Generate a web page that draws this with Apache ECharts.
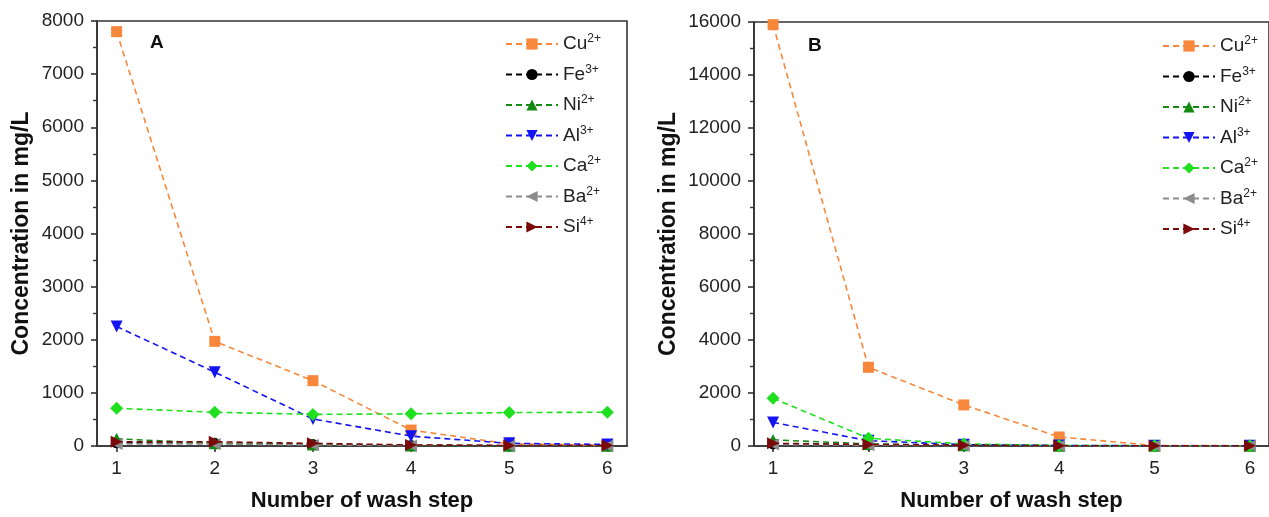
<!DOCTYPE html>
<html><head><meta charset="utf-8">
<script src="https://cdn.jsdelivr.net/npm/echarts@6/dist/echarts.min.js"></script>
<style>html,body{margin:0;padding:0;background:#fff}#c{width:1269px;height:517px}</style>
</head><body><div id="c"></div>
<script>
const steps = [1, 2, 3, 4, 5, 6];
const xTickLabels = ['1', '2', '3', '4', '5', '6'];
const ions = ['Cu', 'Fe', 'Ni', 'Al', 'Ca', 'Ba', 'Si'];
const charges = ['2+', '3+', '2+', '3+', '2+', '2+', '4+'];
// Panel A (mg/L)
const cuA = [7800, 1970, 1230, 300, 40, 15];
const feA = [60, 50, 30, 10, 5, 5];
const niA = [135, 50, 30, 10, 5, 5];
const alA = [2250, 1390, 510, 185, 50, 30];
const caA = [710, 635, 595, 605, 630, 635];
const baA = [40, 40, 20, 10, 5, 5];
const siA = [80, 80, 50, 20, 10, 10];
// Panel B (mg/L)
const cuB = [15900, 2970, 1550, 340, 20, 10];
const feB = [80, 40, 20, 10, 5, 5];
const niB = [230, 80, 30, 10, 5, 5];
const alB = [890, 200, 50, 20, 10, 10];
const caB = [1800, 290, 80, 20, 10, 10];
const baB = [60, 30, 10, 5, 5, 5];
const siB = [100, 60, 30, 10, 5, 5];
const yTicksA = [0, 1000, 2000, 3000, 4000, 5000, 6000, 7000, 8000];
const yTicksB = [0, 2000, 4000, 6000, 8000, 10000, 12000, 14000, 16000];

const colors = ['#F7883B', '#000000', '#138A13', '#1414F0', '#1EE01E', '#8C8C8C', '#7A0A0A'];
const symbols = ['rect', 'circle', 'path://M5,0L10,10L0,10Z', 'path://M0,0L10,0L5,10Z', 'diamond', 'path://M10,0L10,10L0,5Z', 'path://M0,0L10,5L0,10Z'];
const symSizes = [11, 11, 12, 12, 13, 12, 12];
const FONT = 'Arial, "Liberation Sans", sans-serif';

function mkSeries(dataArrs, gi) {
  return dataArrs.map((arr, i) => ({
    name: ions[i] + (gi ? ' ' : ''),
    type: 'line', xAxisIndex: gi, yAxisIndex: gi,
    data: steps.map((s, k) => [s, arr[k]]),
    symbol: symbols[i], symbolSize: symSizes[i],
    itemStyle: {color: colors[i]},
    lineStyle: {color: colors[i], type: [6, 4], width: 1.6},
    z: 2 + i, animation: false
  }));
}
const seriesA = mkSeries([cuA, feA, niA, alA, caA, baA, siA], 0);
const seriesB = mkSeries([cuB, feB, niB, alB, caB, baB, siB], 1);

const axisLine = {lineStyle: {color: '#333', width: 1.6}};
function xAxis(gi) {
  return {
    type: 'value', gridIndex: gi, min: 0.8, max: 6.2,
    axisLine: axisLine,
    axisTick: {show: true, length: 6, lineStyle: {color: '#333', width: 1.6}, customValues: steps},
    axisLabel: {customValues: steps, formatter: v => xTickLabels[steps.indexOf(v)], fontSize: 19, color: '#222', fontFamily: FONT, margin: 13},
    splitLine: {show: false},
    name: 'Number of wash step', nameLocation: 'middle', nameGap: 44,
    nameTextStyle: {fontSize: 22, fontWeight: 'bold', color: '#111', fontFamily: FONT}
  };
}
function yAxis(gi, ticks) {
  return {
    type: 'value', gridIndex: gi, min: ticks[0], max: ticks[ticks.length - 1], interval: ticks[1] - ticks[0],
    axisLine: {show: true, lineStyle: {color: '#333', width: 1.6}},
    axisTick: {show: true, length: 6, lineStyle: {color: '#333', width: 1.6}},
    minorTick: {show: true, splitNumber: 2, length: 4, lineStyle: {color: '#333', width: 1.4}},
    axisLabel: {fontSize: 19, color: '#222', fontFamily: FONT, margin: 13, formatter: v => String(v)},
    splitLine: {show: false},
    name: 'Concentration in mg/L', nameLocation: 'middle', nameGap: gi ? 74 : 64,
    nameTextStyle: {fontSize: 23, fontWeight: 'bold', color: '#111', fontFamily: FONT}
  };
}
const rich = {
  b: {fontSize: 19, color: '#222', fontFamily: FONT},
  s: {fontSize: 12, color: '#222', fontFamily: FONT, padding: [0, 0, 10, 0]}
};
function legend(gi, left, top) {
  return {
    orient: 'vertical', left: left, top: top, itemWidth: 52, itemHeight: 14, itemGap: 10,
    data: ions.map(n => n + (gi ? ' ' : '')),
    formatter: n => { const i = ions.indexOf(n.trim()); return '{b|' + ions[i] + '}{s|' + charges[i] + '}'; },
    textStyle: {rich: rich, padding: [0, 0, 0, 0]},
    itemStyle: {borderWidth: 0}
  };
}
const chart = echarts.init(document.getElementById('c'), null, {renderer: 'canvas'});
chart.setOption({
  animation: false,
  backgroundColor: '#fff',
  grid: [
    {left: 97, top: 21, width: 530, height: 426, show: true, borderColor: '#333', borderWidth: 1.6, backgroundColor: 'transparent'},
    {left: 754, top: 22, width: 524, height: 425, show: true, borderColor: '#333', borderWidth: 1.6, backgroundColor: 'transparent'}
  ],
  xAxis: [xAxis(0), xAxis(1)],
  yAxis: [yAxis(0, yTicksA), yAxis(1, yTicksB)],
  legend: [legend(0, 500, 28), legend(1, 1157, 30)],
  graphic: [
    {type: 'text', left: 150, top: 33, style: {text: 'A', font: 'bold 19px ' + FONT, fill: '#111'}},
    {type: 'text', left: 808, top: 36, style: {text: 'B', font: 'bold 19px ' + FONT, fill: '#111'}}
  ],
  series: seriesA.concat(seriesB)
});
</script></body></html>
